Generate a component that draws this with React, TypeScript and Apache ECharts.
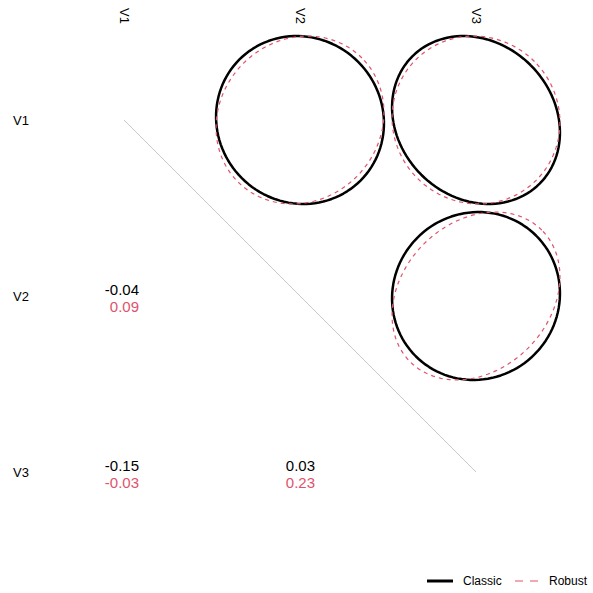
import React, { useEffect, useRef } from "react";
import * as echarts from "echarts";

const variables = ["V1", "V2", "V3"];
// pairs: [rowIndex, colIndex] (1-based), classic and robust correlations
const pairRows = [1, 1, 2];
const pairCols = [2, 3, 3];
const classicCorr = [-0.04, -0.15, 0.03];
const robustCorr = [0.09, -0.03, 0.23];

const RED = "#DF536B";
const FONT = "'Liberation Sans', Arial, Helvetica, sans-serif";
const ELLIPSE_SCALE = 0.477;
const N_PTS = 120;

function ellipsePoints(r: number, cx: number, cy: number): number[][] {
  const d = Math.acos(r);
  const pts: number[][] = [];
  for (let i = 0; i <= N_PTS; i++) {
    const t = (2 * Math.PI * i) / N_PTS;
    const x = Math.cos(t + d / 2);
    const y = Math.cos(t - d / 2);
    pts.push([cx + ELLIPSE_SCALE * x, cy - ELLIPSE_SCALE * y]);
  }
  return pts;
}

export default function App() {
  const ref = useRef<HTMLDivElement>(null);
  useEffect(() => {
    if (!ref.current) return;
    const chart = echarts.init(ref.current, null, { renderer: "svg" });

    const series: any[] = [];
    // diagonal
    series.push({
      type: "line",
      data: [
        [1, 1],
        [3, 3],
      ],
      symbol: "none",
      lineStyle: { color: "#C8C8C8", width: 1 },
      silent: true,
      z: 1,
    });
    pairRows.forEach((row, i) => {
      const col = pairCols[i];
      series.push({
        type: "line",
        name: "Classic",
        data: ellipsePoints(classicCorr[i], col, row),
        symbol: "none",
        smooth: false,
        lineStyle: { color: "#000000", width: 2.5 },
        silent: true,
        z: 2,
      });
    });
    pairRows.forEach((row, i) => {
      const col = pairCols[i];
      series.push({
        type: "line",
        name: "Robust",
        data: ellipsePoints(robustCorr[i], col, row),
        symbol: "none",
        lineStyle: { color: RED, width: 1.2, type: [4, 4] },
        silent: true,
        z: 3,
      });
    });
    // correlation numbers in lower triangle (row = col of pair, col = row of pair)
    const textData: any[] = [];
    pairRows.forEach((row, i) => {
      const col = pairCols[i];
      textData.push([row, col, classicCorr[i].toFixed(2), 0]);
      textData.push([row, col, robustCorr[i].toFixed(2), 1]);
    });
    series.push({
      type: "custom",
      data: textData,
      renderItem: (params: any, api: any) => {
        const p = api.coord([api.value(0), api.value(1)]);
        const which = api.value(3);
        const item = textData[params.dataIndex];
        return {
          type: "text",
          x: p[0] + 15,
          y: p[1] + (which === 0 ? -7 : 10),
          style: {
            text: item[2],
            fill: which === 0 ? "#000000" : RED,
            font: `15px ${FONT}`,
            align: "right",
            verticalAlign: "middle",
          },
        };
      },
      silent: true,
      z: 4,
    });

    chart.setOption({
      animation: false,
      backgroundColor: "#ffffff",
      grid: { left: 36, right: 29, top: 32, bottom: 33 },
      xAxis: [
        {
          type: "value",
          min: 0.5,
          max: 3.5,
          show: false,
        },
        {
          type: "category",
          data: variables,
          position: "top",
          boundaryGap: true,
          axisLine: { show: false },
          axisTick: { show: false },
          splitLine: { show: false },
          axisLabel: {
            rotate: 90,
            fontSize: 13,
            fontFamily: FONT,
            color: "#000000",
            margin: 8,
          },
        },
      ],
      yAxis: [
        {
          type: "value",
          min: 0.5,
          max: 3.5,
          inverse: true,
          show: false,
        },
        {
          type: "category",
          data: variables,
          inverse: true,
          position: "left",
          boundaryGap: true,
          axisLine: { show: false },
          axisTick: { show: false },
          splitLine: { show: false },
          axisLabel: {
            fontSize: 13,
            fontFamily: FONT,
            color: "#000000",
            align: "left",
            margin: 23,
          },
        },
      ],
      series,
      graphic: [
        {
          type: "line",
          shape: { x1: 427, y1: 581, x2: 453, y2: 581 },
          style: { stroke: "#000000", lineWidth: 3 },
        },
        {
          type: "text",
          x: 463,
          y: 581,
          style: {
            text: "Classic",
            font: `12px ${FONT}`,
            fill: "#000000",
            verticalAlign: "middle",
          },
        },
        {
          type: "line",
          shape: { x1: 515, y1: 581, x2: 538, y2: 581 },
          style: { stroke: RED, lineWidth: 1.2, lineDash: [8, 7] },
        },
        {
          type: "text",
          x: 549,
          y: 581,
          style: {
            text: "Robust",
            font: `12px ${FONT}`,
            fill: "#000000",
            verticalAlign: "middle",
          },
        },
      ],
    });
    return () => chart.dispose();
  }, []);
  return (
    <div
      ref={ref}
      style={{ position: "absolute", left: 0, top: 0, width: 593, height: 593 }}
    />
  );
}
